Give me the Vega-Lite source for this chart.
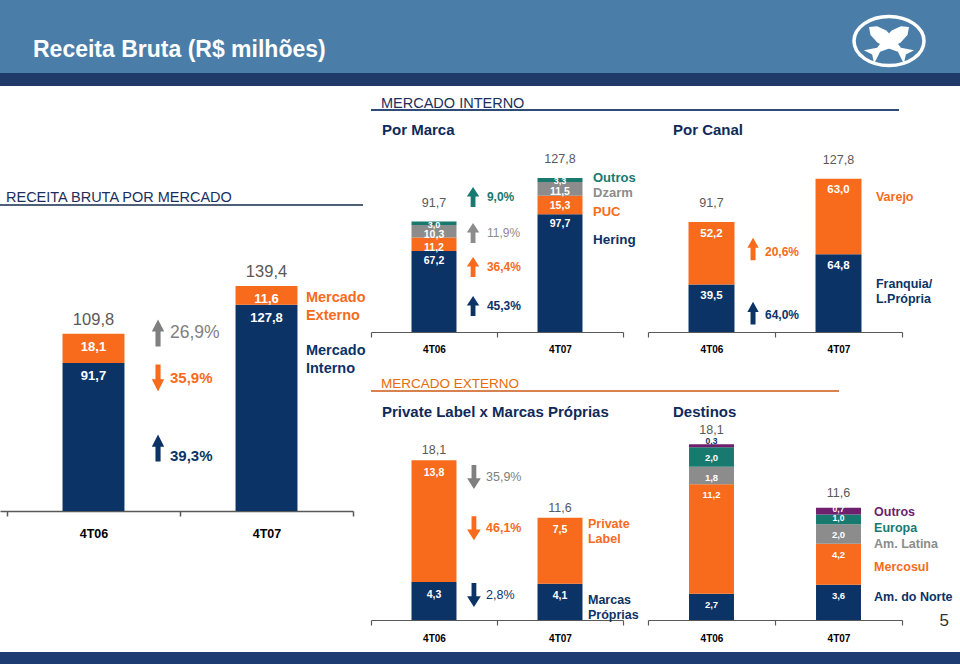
{
"$schema": "https://vega.github.io/schema/vega-lite/v6.json",
"padding": 0,
"background": "white",
"spacing": 0,
"resolve": {"scale": {"color": "independent", "shape": "independent"}},
"config": {
  "font": "Liberation Sans",
  "view": {"stroke": null},
  "locale": {"number": {"decimal": ",", "thousands": ".", "grouping": [3], "currency": ["R$", ""]}},
  "axis": {"grid": false}
},
"datasets": {
  "mercado": [
    {"periodo": "4T06", "serie": "Mercado Interno", "ordem": 1, "valor": 91.7},
    {"periodo": "4T06", "serie": "Mercado Externo", "ordem": 2, "valor": 18.1},
    {"periodo": "4T07", "serie": "Mercado Interno", "ordem": 1, "valor": 127.8},
    {"periodo": "4T07", "serie": "Mercado Externo", "ordem": 2, "valor": 11.6}
  ],
  "mercado_total": [{"periodo": "4T06", "total": 109.8}, {"periodo": "4T07", "total": 139.4}],
  "mercado_var": [
    {"serie": "Total", "variacao": 0.269, "sentido": "alta"},
    {"serie": "Mercado Externo", "variacao": 0.359, "sentido": "queda"},
    {"serie": "Mercado Interno", "variacao": 0.393, "sentido": "alta"}
  ],
  "marca": [
    {"periodo": "4T06", "serie": "Hering", "ordem": 1, "valor": 67.2},
    {"periodo": "4T06", "serie": "PUC", "ordem": 2, "valor": 11.2},
    {"periodo": "4T06", "serie": "Dzarm", "ordem": 3, "valor": 10.3},
    {"periodo": "4T06", "serie": "Outros", "ordem": 4, "valor": 3.0},
    {"periodo": "4T07", "serie": "Hering", "ordem": 1, "valor": 97.7},
    {"periodo": "4T07", "serie": "PUC", "ordem": 2, "valor": 15.3},
    {"periodo": "4T07", "serie": "Dzarm", "ordem": 3, "valor": 11.5},
    {"periodo": "4T07", "serie": "Outros", "ordem": 4, "valor": 3.3}
  ],
  "marca_total": [{"periodo": "4T06", "total": 91.7}, {"periodo": "4T07", "total": 127.8}],
  "marca_var": [
    {"serie": "Outros", "variacao": 0.09, "sentido": "alta"},
    {"serie": "Dzarm", "variacao": 0.119, "sentido": "alta"},
    {"serie": "PUC", "variacao": 0.364, "sentido": "alta"},
    {"serie": "Hering", "variacao": 0.453, "sentido": "alta"}
  ],
  "canal": [
    {"periodo": "4T06", "serie": "Franquia/ L.Própria", "ordem": 1, "valor": 39.5},
    {"periodo": "4T06", "serie": "Varejo", "ordem": 2, "valor": 52.2},
    {"periodo": "4T07", "serie": "Franquia/ L.Própria", "ordem": 1, "valor": 64.8},
    {"periodo": "4T07", "serie": "Varejo", "ordem": 2, "valor": 63.0}
  ],
  "canal_total": [{"periodo": "4T06", "total": 91.7}, {"periodo": "4T07", "total": 127.8}],
  "canal_var": [
    {"serie": "Varejo", "variacao": 0.206, "sentido": "alta"},
    {"serie": "Franquia/ L.Própria", "variacao": 0.64, "sentido": "alta"}
  ],
  "pl": [
    {"periodo": "4T06", "serie": "Marcas Próprias", "ordem": 1, "valor": 4.3},
    {"periodo": "4T06", "serie": "Private Label", "ordem": 2, "valor": 13.8},
    {"periodo": "4T07", "serie": "Marcas Próprias", "ordem": 1, "valor": 4.1},
    {"periodo": "4T07", "serie": "Private Label", "ordem": 2, "valor": 7.5}
  ],
  "pl_total": [{"periodo": "4T06", "total": 18.1}, {"periodo": "4T07", "total": 11.6}],
  "pl_var": [
    {"serie": "Total", "variacao": 0.359, "sentido": "queda"},
    {"serie": "Private Label", "variacao": 0.461, "sentido": "queda"},
    {"serie": "Marcas Próprias", "variacao": 0.028, "sentido": "queda"}
  ],
  "destinos": [
    {"periodo": "4T06", "serie": "Am. do Norte", "ordem": 1, "valor": 2.7},
    {"periodo": "4T06", "serie": "Mercosul", "ordem": 2, "valor": 11.2},
    {"periodo": "4T06", "serie": "Am. Latina", "ordem": 3, "valor": 1.8},
    {"periodo": "4T06", "serie": "Europa", "ordem": 4, "valor": 2.0},
    {"periodo": "4T06", "serie": "Outros", "ordem": 5, "valor": 0.3},
    {"periodo": "4T07", "serie": "Am. do Norte", "ordem": 1, "valor": 3.6},
    {"periodo": "4T07", "serie": "Mercosul", "ordem": 2, "valor": 4.2},
    {"periodo": "4T07", "serie": "Am. Latina", "ordem": 3, "valor": 2.0},
    {"periodo": "4T07", "serie": "Europa", "ordem": 4, "valor": 1.0},
    {"periodo": "4T07", "serie": "Outros", "ordem": 5, "valor": 0.7}
  ],
  "destinos_total": [{"periodo": "4T06", "total": 18.1}, {"periodo": "4T07", "total": 11.6}]
},
"vconcat": [
  {
    "hconcat": [
      {
        "width": 821, "height": 73,
        "data": {"values": [{}]},
        "mark": {"type": "rect", "color": "#4a7ea8"},
        "encoding": {},
        "title": {"text": "Receita Bruta (R$ milhões)", "orient": "top", "anchor": "start", "frame": "group", "offset": -79.5, "dx": 33, "baseline": "alphabetic", "color": "white", "fontSize": 23, "fontWeight": "bold"}
      },
      {
        "width": 139, "height": 73,
        "data": {"values": [{}]},
        "layer": [
          {"mark": {"type": "rect", "color": "#4a7ea8"}, "encoding": {}},
          {"mark": {"type": "point", "shape": "M-36.5,4.5A35,24.5 0 1,1 33.5,4.5A35,24.5 0 1,1 -36.5,4.5Z", "size": 4, "filled": false, "stroke": "white", "strokeWidth": 3.5, "opacity": 1}, "encoding": {}},
          {"mark": {"type": "point", "shape": "M-21.5,-9.5L-20,-1.5L-13.2,6.1L-2.4,11.7L7.4,15.3L13.4,27.3L15.3,18.1L23.6,13.7L10.4,11.3L4.2,2.9L-4.2,-5.9L-13.4,-10.3Z", "size": 4, "filled": true, "color": "white", "opacity": 1}, "encoding": {}},
          {"mark": {"type": "point", "shape": "M18.5,-9.5L17,-1.5L10.2,6.1L-0.6,11.7L-10.4,15.3L-16.4,27.3L-18.3,18.1L-26.6,13.7L-13.4,11.3L-7.2,2.9L1.2,-5.9L10.4,-10.3Z", "size": 4, "filled": true, "color": "white", "opacity": 1}, "encoding": {}}
        ]
      }
    ],
    "spacing": 0,
    "bounds": "flush"
  },
  {
    "width": 960, "height": 13,
    "data": {"values": [{}]},
    "mark": {"type": "rect", "color": "#1f3a68"},
    "encoding": {}
  },
  {
    "hconcat": [
      {
        "vconcat": [
          {"width": 353, "height": 118, "data": {"values": [{}]}, "mark": {"type": "rect", "opacity": 0}, "encoding": {}},
          {
            "width": 363, "height": 2,
            "data": {"values": [{}]},
            "mark": {"type": "rect", "color": "#4f5f78"},
            "encoding": {},
            "title": {"text": "RECEITA BRUTA POR MERCADO", "orient": "top", "anchor": "start", "frame": "group", "offset": -12.7, "dx": 6, "baseline": "alphabetic", "color": "#1b2f5e", "fontSize": 14.5, "fontWeight": "normal"}
          },
          {
            "width": 353, "height": 305,
            "encoding": {"x": {"field": "periodo", "type": "nominal",
              "scale": {"domain": ["4T06", "4T07"], "paddingInner": 0, "paddingOuter": 0.0202, "align": 1},
              "axis": {"title": null, "labelAngle": 0, "tickBand": "extent", "domainColor": "#595959", "domainWidth": 1.5, "tickColor": "#595959", "tickWidth": 1.5, "tickSize": 5, "labelFontSize": 12.5, "labelFontWeight": "bold", "labelColor": "#000000", "labelPadding": 11}}},
            "layer": [
              {
                "data": {"name": "mercado"},
                "transform": [{"stack": "valor", "groupby": ["periodo"], "sort": [{"field": "ordem", "order": "ascending"}], "as": ["v0", "v1"]}],
                "layer": [
                  {"mark": {"type": "bar", "width": {"band": 0.358}},
                   "encoding": {
                     "y": {"field": "v0", "type": "quantitative", "stack": null, "scale": {"domain": [0, 188.97]}, "axis": null},
                     "y2": {"field": "v1"},
                     "color": {"field": "serie", "type": "nominal", "scale": {"domain": ["Mercado Interno", "Mercado Externo", "Total"], "range": ["#0c3366", "#f86b1d", "#808080"]}, "legend": null}}},
                  {"mark": {"type": "text", "baseline": "top", "dy": 7, "color": "white", "fontSize": 13, "fontWeight": "bold"},
                   "encoding": {
                     "y": {"field": "v1", "type": "quantitative", "stack": null, "scale": {"domain": [0, 188.97]}, "axis": null},
                     "text": {"field": "valor", "type": "quantitative", "format": ".1f"}}}
                ]
              },
              {
                "data": {"name": "mercado_total"},
                "mark": {"type": "text", "baseline": "alphabetic", "dy": -9, "fontSize": 16.5, "color": "#595959"},
                "encoding": {
                  "y": {"field": "total", "type": "quantitative", "stack": null, "scale": {"domain": [0, 188.97]}, "axis": null},
                  "text": {"field": "total", "type": "quantitative", "format": ".1f"}}
              },
              {
                "data": {"name": "mercado_var"},
                "transform": [{"filter": {"field": "serie", "equal": "Total"}}],
                "encoding": {"y": {"datum": 110.3, "type": "quantitative", "scale": {"domain": [0, 188.97]}, "axis": null}, "color": {"field": "serie", "type": "nominal", "legend": null}},
                "layer": [
                  {"mark": {"type": "point", "filled": true, "opacity": 1, "size": 729},
                   "encoding": {"x": {"datum": "4T06", "bandPosition": 0.873},
                     "shape": {"field": "sentido", "type": "nominal", "scale": {"domain": ["alta", "queda"], "range": ["M-0.19,1L-0.19,-0.1L-0.46,-0.1L0,-1L0.46,-0.1L0.19,-0.1L0.19,1Z", "M-0.19,-1L-0.19,0.1L-0.46,0.1L0,1L0.46,0.1L0.19,0.1L0.19,-1Z"]}, "legend": null}}},
                  {"mark": {"type": "text", "align": "left", "baseline": "middle", "fontSize": 17.5, "fontWeight": "normal"},
                   "encoding": {"x": {"datum": "4T06", "bandPosition": 0.942}, "text": {"field": "variacao", "type": "quantitative", "format": ".1%"}}}
                ]
              },
              {
                "data": {"name": "mercado_var"},
                "transform": [{"filter": {"field": "serie", "equal": "Mercado Externo"}}],
                "encoding": {"y": {"datum": 82.4, "type": "quantitative", "scale": {"domain": [0, 188.97]}, "axis": null}, "color": {"field": "serie", "type": "nominal", "legend": null}},
                "layer": [
                  {"mark": {"type": "point", "filled": true, "opacity": 1, "size": 729},
                   "encoding": {"x": {"datum": "4T06", "bandPosition": 0.873},
                     "shape": {"field": "sentido", "type": "nominal", "scale": {"domain": ["alta", "queda"], "range": ["M-0.19,1L-0.19,-0.1L-0.46,-0.1L0,-1L0.46,-0.1L0.19,-0.1L0.19,1Z", "M-0.19,-1L-0.19,0.1L-0.46,0.1L0,1L0.46,0.1L0.19,0.1L0.19,-1Z"]}, "legend": null}}},
                  {"mark": {"type": "text", "align": "left", "baseline": "middle", "fontSize": 15, "fontWeight": "bold"},
                   "encoding": {"x": {"datum": "4T06", "bandPosition": 0.942}, "text": {"field": "variacao", "type": "quantitative", "format": ".1%"}}}
                ]
              },
              {
                "data": {"name": "mercado_var"},
                "transform": [{"filter": {"field": "serie", "equal": "Mercado Interno"}}],
                "encoding": {"color": {"field": "serie", "type": "nominal", "legend": null}},
                "layer": [
                  {"mark": {"type": "point", "filled": true, "opacity": 1, "size": 729},
                   "encoding": {"x": {"datum": "4T06", "bandPosition": 0.873},
                     "y": {"datum": 39.0, "type": "quantitative", "scale": {"domain": [0, 188.97]}, "axis": null},
                     "shape": {"field": "sentido", "type": "nominal", "scale": {"domain": ["alta", "queda"], "range": ["M-0.19,1L-0.19,-0.1L-0.46,-0.1L0,-1L0.46,-0.1L0.19,-0.1L0.19,1Z", "M-0.19,-1L-0.19,0.1L-0.46,0.1L0,1L0.46,0.1L0.19,0.1L0.19,-1Z"]}, "legend": null}}},
                  {"mark": {"type": "text", "align": "left", "baseline": "middle", "fontSize": 15, "fontWeight": "bold"},
                   "encoding": {"x": {"datum": "4T06", "bandPosition": 0.942},
                     "y": {"datum": 34.1, "type": "quantitative", "scale": {"domain": [0, 188.97]}, "axis": null},
                     "text": {"field": "variacao", "type": "quantitative", "format": ".1%"}}}
                ]
              },
              {
                "data": {"name": "mercado"},
                "transform": [{"filter": {"and": [{"field": "periodo", "equal": "4T07"}, {"field": "serie", "equal": "Mercado Externo"}]}}],
                "mark": {"type": "text", "align": "left", "baseline": "middle", "fontSize": 14.5, "fontWeight": "bold", "lineBreak": " ", "lineHeight": 18},
                "encoding": {"x": {"datum": "4T07", "bandPosition": 0.728},
                  "y": {"datum": 132.0, "type": "quantitative", "scale": {"domain": [0, 188.97]}, "axis": null},
                  "text": {"field": "serie", "type": "nominal"},
                  "color": {"field": "serie", "type": "nominal", "legend": null}}
              },
              {
                "data": {"name": "mercado"},
                "transform": [{"filter": {"and": [{"field": "periodo", "equal": "4T07"}, {"field": "serie", "equal": "Mercado Interno"}]}}],
                "mark": {"type": "text", "align": "left", "baseline": "middle", "fontSize": 14.5, "fontWeight": "bold", "lineBreak": " ", "lineHeight": 18},
                "encoding": {"x": {"datum": "4T07", "bandPosition": 0.728},
                  "y": {"datum": 99.1, "type": "quantitative", "scale": {"domain": [0, 188.97]}, "axis": null},
                  "text": {"field": "serie", "type": "nominal"},
                  "color": {"field": "serie", "type": "nominal", "legend": null}}
              }
            ]
          }
        ],
        "spacing": 0,
        "bounds": "flush",
        "resolve": {"scale": {"color": "independent", "shape": "independent"}}
      },
      {
        "vconcat": [
          {"width": 528, "height": 23, "data": {"values": [{}]}, "mark": {"type": "rect", "opacity": 0}, "encoding": {}},
          {
            "width": 528, "height": 2,
            "data": {"values": [{}]},
            "mark": {"type": "rect", "color": "#2f4b78"},
            "encoding": {},
            "title": {"text": "MERCADO INTERNO", "orient": "top", "anchor": "start", "frame": "group", "offset": -13.2, "dx": 10, "baseline": "alphabetic", "color": "#1b2f5e", "fontSize": 14.5, "fontWeight": "normal"}
          },
          {
            "hconcat": [
              {
                "width": 252, "height": 221,
                "title": {"text": "Por Marca", "orient": "top", "anchor": "start", "frame": "group", "offset": -38.5, "dx": 11, "baseline": "alphabetic", "color": "#0f2a5a", "fontSize": 15, "fontWeight": "bold"},
                "encoding": {"x": {"field": "periodo", "type": "nominal",
                  "scale": {"domain": ["4T06", "4T07"], "paddingInner": 0, "paddingOuter": 0},
                  "axis": {"title": null, "labelAngle": 0, "tickBand": "extent", "domainColor": "#595959", "domainWidth": 1.2, "tickColor": "#595959", "tickWidth": 1.2, "tickSize": 5, "labelFontSize": 10, "labelFontWeight": "bold", "labelColor": "#000000", "labelPadding": 7}}},
                "layer": [
                  {
                    "data": {"name": "marca"},
                    "transform": [{"stack": "valor", "groupby": ["periodo"], "sort": [{"field": "ordem", "order": "ascending"}], "as": ["v0", "v1"]}],
                    "layer": [
                      {"mark": {"type": "bar", "width": {"band": 0.357}},
                       "encoding": {
                         "y": {"field": "v0", "type": "quantitative", "stack": null, "scale": {"domain": [0, 183.4]}, "axis": null},
                         "y2": {"field": "v1"},
                         "color": {"field": "serie", "type": "nominal", "scale": {"domain": ["Hering", "PUC", "Dzarm", "Outros"], "range": ["#0c3366", "#f86b1d", "#8c8c8c", "#187a6f"]}, "legend": null}}},
                      {"transform": [{"filter": {"field": "valor", "gte": 5}}],
                       "mark": {"type": "text", "baseline": "top", "dy": 5, "color": "white", "fontSize": 10.5, "fontWeight": "bold"},
                       "encoding": {
                         "y": {"field": "v1", "type": "quantitative", "stack": null, "scale": {"domain": [0, 183.4]}, "axis": null},
                         "text": {"field": "valor", "type": "quantitative", "format": ".1f"}}},
                      {"transform": [{"filter": {"field": "valor", "lt": 5}}],
                       "mark": {"type": "text", "baseline": "middle", "dy": 3.5, "color": "white", "fontSize": 9, "fontWeight": "bold"},
                       "encoding": {
                         "y": {"field": "v1", "type": "quantitative", "stack": null, "scale": {"domain": [0, 183.4]}, "axis": null},
                         "text": {"field": "valor", "type": "quantitative", "format": ".1f"}}}
                    ]
                  },
                  {
                    "data": {"name": "marca_total"},
                    "mark": {"type": "text", "baseline": "alphabetic", "dy": -14.7, "fontSize": 12.5, "color": "#595959"},
                    "encoding": {
                      "y": {"field": "total", "type": "quantitative", "stack": null, "scale": {"domain": [0, 183.4]}, "axis": null},
                      "text": {"field": "total", "type": "quantitative", "format": ".1f"}}
                  },
                  {
                    "data": {"name": "marca_var"},
                    "transform": [{"filter": {"field": "serie", "equal": "Outros"}}],
                    "encoding": {"y": {"datum": 112.0, "type": "quantitative", "scale": {"domain": [0, 183.4]}, "axis": null}, "color": {"field": "serie", "type": "nominal", "legend": null}},
                    "layer": [
                      {"mark": {"type": "point", "filled": true, "opacity": 1, "size": 400},
                       "encoding": {"x": {"datum": "4T06", "bandPosition": 0.81},
                         "shape": {"field": "sentido", "type": "nominal", "scale": {"domain": ["alta", "queda"], "range": ["M-0.24,1L-0.24,-0.05L-0.62,-0.05L0,-1L0.62,-0.05L0.24,-0.05L0.24,1Z", "M-0.24,-1L-0.24,0.05L-0.62,0.05L0,1L0.62,0.05L0.24,0.05L0.24,-1Z"]}, "legend": null}}},
                      {"mark": {"type": "text", "align": "left", "baseline": "middle", "fontSize": 12, "fontWeight": "bold"},
                       "encoding": {"x": {"datum": "4T06", "bandPosition": 0.92}, "text": {"field": "variacao", "type": "quantitative", "format": ".1%"}}}
                    ]
                  },
                  {
                    "data": {"name": "marca_var"},
                    "transform": [{"filter": {"field": "serie", "equal": "Dzarm"}}],
                    "encoding": {"y": {"datum": 82.2, "type": "quantitative", "scale": {"domain": [0, 183.4]}, "axis": null}, "color": {"field": "serie", "type": "nominal", "legend": null}},
                    "layer": [
                      {"mark": {"type": "point", "filled": true, "opacity": 1, "size": 400},
                       "encoding": {"x": {"datum": "4T06", "bandPosition": 0.81},
                         "shape": {"field": "sentido", "type": "nominal", "scale": {"domain": ["alta", "queda"], "range": ["M-0.24,1L-0.24,-0.05L-0.62,-0.05L0,-1L0.62,-0.05L0.24,-0.05L0.24,1Z", "M-0.24,-1L-0.24,0.05L-0.62,0.05L0,1L0.62,0.05L0.24,0.05L0.24,-1Z"]}, "legend": null}}},
                      {"mark": {"type": "text", "align": "left", "baseline": "middle", "fontSize": 12, "fontWeight": "normal"},
                       "encoding": {"x": {"datum": "4T06", "bandPosition": 0.92}, "text": {"field": "variacao", "type": "quantitative", "format": ".1%"}}}
                    ]
                  },
                  {
                    "data": {"name": "marca_var"},
                    "transform": [{"filter": {"field": "serie", "equal": "PUC"}}],
                    "encoding": {"y": {"datum": 53.9, "type": "quantitative", "scale": {"domain": [0, 183.4]}, "axis": null}, "color": {"field": "serie", "type": "nominal", "legend": null}},
                    "layer": [
                      {"mark": {"type": "point", "filled": true, "opacity": 1, "size": 400},
                       "encoding": {"x": {"datum": "4T06", "bandPosition": 0.81},
                         "shape": {"field": "sentido", "type": "nominal", "scale": {"domain": ["alta", "queda"], "range": ["M-0.24,1L-0.24,-0.05L-0.62,-0.05L0,-1L0.62,-0.05L0.24,-0.05L0.24,1Z", "M-0.24,-1L-0.24,0.05L-0.62,0.05L0,1L0.62,0.05L0.24,0.05L0.24,-1Z"]}, "legend": null}}},
                      {"mark": {"type": "text", "align": "left", "baseline": "middle", "fontSize": 12, "fontWeight": "bold"},
                       "encoding": {"x": {"datum": "4T06", "bandPosition": 0.92}, "text": {"field": "variacao", "type": "quantitative", "format": ".1%"}}}
                    ]
                  },
                  {
                    "data": {"name": "marca_var"},
                    "transform": [{"filter": {"field": "serie", "equal": "Hering"}}],
                    "encoding": {"y": {"datum": 21.6, "type": "quantitative", "scale": {"domain": [0, 183.4]}, "axis": null}, "color": {"field": "serie", "type": "nominal", "legend": null}},
                    "layer": [
                      {"mark": {"type": "point", "filled": true, "opacity": 1, "size": 400},
                       "encoding": {"x": {"datum": "4T06", "bandPosition": 0.81},
                         "shape": {"field": "sentido", "type": "nominal", "scale": {"domain": ["alta", "queda"], "range": ["M-0.24,1L-0.24,-0.05L-0.62,-0.05L0,-1L0.62,-0.05L0.24,-0.05L0.24,1Z", "M-0.24,-1L-0.24,0.05L-0.62,0.05L0,1L0.62,0.05L0.24,0.05L0.24,-1Z"]}, "legend": null}}},
                      {"mark": {"type": "text", "align": "left", "baseline": "middle", "fontSize": 12, "fontWeight": "bold"},
                       "encoding": {"x": {"datum": "4T06", "bandPosition": 0.92}, "text": {"field": "variacao", "type": "quantitative", "format": ".1%"}}}
                    ]
                  },
                  {
                    "data": {"name": "marca"},
                    "transform": [{"filter": {"and": [{"field": "periodo", "equal": "4T07"}, {"field": "serie", "equal": "Outros"}]}}],
                    "mark": {"type": "text", "align": "left", "baseline": "middle", "fontSize": 13, "fontWeight": "bold"},
                    "encoding": {"x": {"datum": "4T07", "bandPosition": 0.762},
                      "y": {"datum": 127.8, "type": "quantitative", "scale": {"domain": [0, 183.4]}, "axis": null},
                      "text": {"field": "serie", "type": "nominal"},
                      "color": {"field": "serie", "type": "nominal", "legend": null}}
                  },
                  {
                    "data": {"name": "marca"},
                    "transform": [{"filter": {"and": [{"field": "periodo", "equal": "4T07"}, {"field": "serie", "equal": "Dzarm"}]}}],
                    "mark": {"type": "text", "align": "left", "baseline": "middle", "fontSize": 13, "fontWeight": "bold"},
                    "encoding": {"x": {"datum": "4T07", "bandPosition": 0.762},
                      "y": {"datum": 115.4, "type": "quantitative", "scale": {"domain": [0, 183.4]}, "axis": null},
                      "text": {"field": "serie", "type": "nominal"},
                      "color": {"field": "serie", "type": "nominal", "legend": null}}
                  },
                  {
                    "data": {"name": "marca"},
                    "transform": [{"filter": {"and": [{"field": "periodo", "equal": "4T07"}, {"field": "serie", "equal": "PUC"}]}}],
                    "mark": {"type": "text", "align": "left", "baseline": "middle", "fontSize": 13, "fontWeight": "bold"},
                    "encoding": {"x": {"datum": "4T07", "bandPosition": 0.762},
                      "y": {"datum": 99.6, "type": "quantitative", "scale": {"domain": [0, 183.4]}, "axis": null},
                      "text": {"field": "serie", "type": "nominal"},
                      "color": {"field": "serie", "type": "nominal", "legend": null}}
                  },
                  {
                    "data": {"name": "marca"},
                    "transform": [{"filter": {"and": [{"field": "periodo", "equal": "4T07"}, {"field": "serie", "equal": "Hering"}]}}],
                    "mark": {"type": "text", "align": "left", "baseline": "middle", "fontSize": 13.5, "fontWeight": "bold"},
                    "encoding": {"x": {"datum": "4T07", "bandPosition": 0.762},
                      "y": {"datum": 76.3, "type": "quantitative", "scale": {"domain": [0, 183.4]}, "axis": null},
                      "text": {"field": "serie", "type": "nominal"},
                      "color": {"field": "serie", "type": "nominal", "legend": null}}
                  }
                ]
              },
              {
                "width": 254, "height": 221,
                "title": {"text": "Por Canal", "orient": "top", "anchor": "start", "frame": "group", "offset": -38.5, "dx": 25, "baseline": "alphabetic", "color": "#0f2a5a", "fontSize": 15, "fontWeight": "bold"},
                "encoding": {"x": {"field": "periodo", "type": "nominal",
                  "scale": {"domain": ["4T06", "4T07"], "paddingInner": 0, "paddingOuter": 0},
                  "axis": {"title": null, "labelAngle": 0, "tickBand": "extent", "domainColor": "#595959", "domainWidth": 1.2, "tickColor": "#595959", "tickWidth": 1.2, "tickSize": 5, "labelFontSize": 10, "labelFontWeight": "bold", "labelColor": "#000000", "labelPadding": 7}}},
                "layer": [
                  {
                    "data": {"name": "canal"},
                    "transform": [{"stack": "valor", "groupby": ["periodo"], "sort": [{"field": "ordem", "order": "ascending"}], "as": ["v0", "v1"]}],
                    "layer": [
                      {"mark": {"type": "bar", "width": {"band": 0.362}},
                       "encoding": {
                         "y": {"field": "v0", "type": "quantitative", "stack": null, "scale": {"domain": [0, 184.2]}, "axis": null},
                         "y2": {"field": "v1"},
                         "color": {"field": "serie", "type": "nominal", "scale": {"domain": ["Franquia/ L.Própria", "Varejo"], "range": ["#0c3366", "#f86b1d"]}, "legend": null}}},
                      {"mark": {"type": "text", "baseline": "top", "dy": 5.6, "color": "white", "fontSize": 11.5, "fontWeight": "bold"},
                       "encoding": {
                         "y": {"field": "v1", "type": "quantitative", "stack": null, "scale": {"domain": [0, 184.2]}, "axis": null},
                         "text": {"field": "valor", "type": "quantitative", "format": ".1f"}}}
                    ]
                  },
                  {
                    "data": {"name": "canal_total"},
                    "mark": {"type": "text", "baseline": "alphabetic", "dy": -14.7, "fontSize": 12.5, "color": "#595959"},
                    "encoding": {
                      "y": {"field": "total", "type": "quantitative", "stack": null, "scale": {"domain": [0, 184.2]}, "axis": null},
                      "text": {"field": "total", "type": "quantitative", "format": ".1f"}}
                  },
                  {
                    "data": {"name": "canal_var"},
                    "transform": [{"filter": {"field": "serie", "equal": "Varejo"}}],
                    "encoding": {"color": {"field": "serie", "type": "nominal", "legend": null}},
                    "layer": [
                      {"mark": {"type": "point", "filled": true, "opacity": 1, "size": 515},
                       "encoding": {"x": {"datum": "4T06", "bandPosition": 0.827},
                         "y": {"datum": 69.2, "type": "quantitative", "scale": {"domain": [0, 184.2]}, "axis": null},
                         "shape": {"field": "sentido", "type": "nominal", "scale": {"domain": ["alta", "queda"], "range": ["M-0.22,1L-0.22,-0.1L-0.5,-0.1L0,-1L0.5,-0.1L0.22,-0.1L0.22,1Z", "M-0.22,-1L-0.22,0.1L-0.5,0.1L0,1L0.5,0.1L0.22,0.1L0.22,-1Z"]}, "legend": null}}},
                      {"mark": {"type": "text", "align": "left", "baseline": "middle", "fontSize": 12, "fontWeight": "bold"},
                       "encoding": {"x": {"datum": "4T06", "bandPosition": 0.921},
                         "y": {"datum": 66.7, "type": "quantitative", "scale": {"domain": [0, 184.2]}, "axis": null},
                         "text": {"field": "variacao", "type": "quantitative", "format": ".1%"}}}
                    ]
                  },
                  {
                    "data": {"name": "canal_var"},
                    "transform": [{"filter": {"field": "serie", "equal": "Franquia/ L.Própria"}}],
                    "encoding": {"color": {"field": "serie", "type": "nominal", "legend": null}},
                    "layer": [
                      {"mark": {"type": "point", "filled": true, "opacity": 1, "size": 515},
                       "encoding": {"x": {"datum": "4T06", "bandPosition": 0.827},
                         "y": {"datum": 15.8, "type": "quantitative", "scale": {"domain": [0, 184.2]}, "axis": null},
                         "shape": {"field": "sentido", "type": "nominal", "scale": {"domain": ["alta", "queda"], "range": ["M-0.22,1L-0.22,-0.1L-0.5,-0.1L0,-1L0.5,-0.1L0.22,-0.1L0.22,1Z", "M-0.22,-1L-0.22,0.1L-0.5,0.1L0,1L0.5,0.1L0.22,0.1L0.22,-1Z"]}, "legend": null}}},
                      {"mark": {"type": "text", "align": "left", "baseline": "middle", "fontSize": 12, "fontWeight": "bold"},
                       "encoding": {"x": {"datum": "4T06", "bandPosition": 0.921},
                         "y": {"datum": 14.2, "type": "quantitative", "scale": {"domain": [0, 184.2]}, "axis": null},
                         "text": {"field": "variacao", "type": "quantitative", "format": ".1%"}}}
                    ]
                  },
                  {
                    "data": {"name": "canal"},
                    "transform": [{"filter": {"and": [{"field": "periodo", "equal": "4T07"}, {"field": "serie", "equal": "Varejo"}]}}],
                    "mark": {"type": "text", "align": "left", "baseline": "middle", "fontSize": 12.5, "fontWeight": "bold"},
                    "encoding": {"x": {"datum": "4T07", "bandPosition": 0.795},
                      "y": {"datum": 112.5, "type": "quantitative", "scale": {"domain": [0, 184.2]}, "axis": null},
                      "text": {"field": "serie", "type": "nominal"},
                      "color": {"field": "serie", "type": "nominal", "legend": null}}
                  },
                  {
                    "data": {"name": "canal"},
                    "transform": [{"filter": {"and": [{"field": "periodo", "equal": "4T07"}, {"field": "serie", "equal": "Franquia/ L.Própria"}]}}],
                    "mark": {"type": "text", "align": "left", "baseline": "middle", "fontSize": 12.5, "fontWeight": "bold", "lineBreak": " ", "lineHeight": 15},
                    "encoding": {"x": {"datum": "4T07", "bandPosition": 0.795},
                      "y": {"datum": 39.6, "type": "quantitative", "scale": {"domain": [0, 184.2]}, "axis": null},
                      "text": {"field": "serie", "type": "nominal"},
                      "color": {"field": "serie", "type": "nominal", "legend": null}}
                  }
                ]
              }
            ],
            "spacing": 25,
            "bounds": "flush",
            "resolve": {"scale": {"color": "independent", "shape": "independent"}}
          },
          {"width": 528, "height": 279, "data": {"values": [{}]}, "mark": {"type": "rect", "opacity": 0}, "encoding": {}},
          {
            "width": 468, "height": 2,
            "data": {"values": [{}]},
            "mark": {"type": "rect", "color": "#d9824f"},
            "encoding": {},
            "title": {"text": "MERCADO EXTERNO", "orient": "top", "anchor": "start", "frame": "group", "offset": -11.8, "dx": 10, "baseline": "alphabetic", "color": "#e46c0a", "fontSize": 13.5, "fontWeight": "normal"}
          },
          {
            "hconcat": [
              {
                "width": 252, "height": 228,
                "title": {"text": "Private Label x Marcas Próprias", "orient": "top", "anchor": "start", "frame": "group", "offset": -40.4, "dx": 11, "baseline": "alphabetic", "color": "#0f2a5a", "fontSize": 15, "fontWeight": "bold"},
                "encoding": {"x": {"field": "periodo", "type": "nominal",
                  "scale": {"domain": ["4T06", "4T07"], "paddingInner": 0, "paddingOuter": 0},
                  "axis": {"title": null, "labelAngle": 0, "tickBand": "extent", "domainColor": "#595959", "domainWidth": 1.2, "tickColor": "#595959", "tickWidth": 1.2, "tickSize": 5, "labelFontSize": 10, "labelFontWeight": "bold", "labelColor": "#000000", "labelPadding": 8}}},
                "layer": [
                  {
                    "data": {"name": "pl"},
                    "transform": [{"stack": "valor", "groupby": ["periodo"], "sort": [{"field": "ordem", "order": "ascending"}], "as": ["v0", "v1"]}],
                    "layer": [
                      {"mark": {"type": "bar", "width": {"band": 0.357}},
                       "encoding": {
                         "y": {"field": "v0", "type": "quantitative", "stack": null, "scale": {"domain": [0, 25.85]}, "axis": null},
                         "y2": {"field": "v1"},
                         "color": {"field": "serie", "type": "nominal", "scale": {"domain": ["Marcas Próprias", "Private Label", "Total"], "range": ["#0c3366", "#f86b1d", "#808080"]}, "legend": null}}},
                      {"mark": {"type": "text", "baseline": "top", "dy": 7.5, "color": "white", "fontSize": 10.5, "fontWeight": "bold"},
                       "encoding": {
                         "y": {"field": "v1", "type": "quantitative", "stack": null, "scale": {"domain": [0, 25.85]}, "axis": null},
                         "text": {"field": "valor", "type": "quantitative", "format": ".1f"}}}
                    ]
                  },
                  {
                    "data": {"name": "pl_total"},
                    "mark": {"type": "text", "baseline": "alphabetic", "dy": -6, "fontSize": 12.5, "color": "#595959"},
                    "encoding": {
                      "y": {"field": "total", "type": "quantitative", "stack": null, "scale": {"domain": [0, 25.85]}, "axis": null},
                      "text": {"field": "total", "type": "quantitative", "format": ".1f"}}
                  },
                  {
                    "data": {"name": "pl_var"},
                    "transform": [{"filter": {"field": "serie", "equal": "Total"}}],
                    "encoding": {"y": {"datum": 16.2, "type": "quantitative", "scale": {"domain": [0, 25.85]}, "axis": null}, "color": {"field": "serie", "type": "nominal", "legend": null}},
                    "layer": [
                      {"mark": {"type": "point", "filled": true, "opacity": 1, "size": 576},
                       "encoding": {"x": {"datum": "4T06", "bandPosition": 0.817},
                         "shape": {"field": "sentido", "type": "nominal", "scale": {"domain": ["alta", "queda"], "range": ["M-0.2,1L-0.2,-0.1L-0.57,-0.1L0,-1L0.57,-0.1L0.2,-0.1L0.2,1Z", "M-0.2,-1L-0.2,0.1L-0.57,0.1L0,1L0.57,0.1L0.2,0.1L0.2,-1Z"]}, "legend": null}}},
                      {"mark": {"type": "text", "align": "left", "baseline": "middle", "fontSize": 12.5, "fontWeight": "normal"},
                       "encoding": {"x": {"datum": "4T06", "bandPosition": 0.913}, "text": {"field": "variacao", "type": "quantitative", "format": ".1%"}}}
                    ]
                  },
                  {
                    "data": {"name": "pl_var"},
                    "transform": [{"filter": {"field": "serie", "equal": "Private Label"}}],
                    "encoding": {"y": {"datum": 10.4, "type": "quantitative", "scale": {"domain": [0, 25.85]}, "axis": null}, "color": {"field": "serie", "type": "nominal", "legend": null}},
                    "layer": [
                      {"mark": {"type": "point", "filled": true, "opacity": 1, "size": 576},
                       "encoding": {"x": {"datum": "4T06", "bandPosition": 0.817},
                         "shape": {"field": "sentido", "type": "nominal", "scale": {"domain": ["alta", "queda"], "range": ["M-0.2,1L-0.2,-0.1L-0.57,-0.1L0,-1L0.57,-0.1L0.2,-0.1L0.2,1Z", "M-0.2,-1L-0.2,0.1L-0.57,0.1L0,1L0.57,0.1L0.2,0.1L0.2,-1Z"]}, "legend": null}}},
                      {"mark": {"type": "text", "align": "left", "baseline": "middle", "fontSize": 12.5, "fontWeight": "bold"},
                       "encoding": {"x": {"datum": "4T06", "bandPosition": 0.913}, "text": {"field": "variacao", "type": "quantitative", "format": ".1%"}}}
                    ]
                  },
                  {
                    "data": {"name": "pl_var"},
                    "transform": [{"filter": {"field": "serie", "equal": "Marcas Próprias"}}],
                    "encoding": {"y": {"datum": 2.83, "type": "quantitative", "scale": {"domain": [0, 25.85]}, "axis": null}, "color": {"field": "serie", "type": "nominal", "legend": null}},
                    "layer": [
                      {"mark": {"type": "point", "filled": true, "opacity": 1, "size": 576},
                       "encoding": {"x": {"datum": "4T06", "bandPosition": 0.817},
                         "shape": {"field": "sentido", "type": "nominal", "scale": {"domain": ["alta", "queda"], "range": ["M-0.2,1L-0.2,-0.1L-0.57,-0.1L0,-1L0.57,-0.1L0.2,-0.1L0.2,1Z", "M-0.2,-1L-0.2,0.1L-0.57,0.1L0,1L0.57,0.1L0.2,0.1L0.2,-1Z"]}, "legend": null}}},
                      {"mark": {"type": "text", "align": "left", "baseline": "middle", "fontSize": 12.5, "fontWeight": "normal"},
                       "encoding": {"x": {"datum": "4T06", "bandPosition": 0.913}, "text": {"field": "variacao", "type": "quantitative", "format": ".1%"}}}
                    ]
                  },
                  {
                    "data": {"name": "pl"},
                    "transform": [{"filter": {"and": [{"field": "periodo", "equal": "4T07"}, {"field": "serie", "equal": "Private Label"}]}}],
                    "mark": {"type": "text", "align": "left", "baseline": "middle", "fontSize": 12.5, "fontWeight": "bold", "lineBreak": " ", "lineHeight": 15},
                    "encoding": {"x": {"datum": "4T07", "bandPosition": 0.722},
                      "y": {"datum": 10.83, "type": "quantitative", "scale": {"domain": [0, 25.85]}, "axis": null},
                      "text": {"field": "serie", "type": "nominal"},
                      "color": {"field": "serie", "type": "nominal", "legend": null}}
                  },
                  {
                    "data": {"name": "pl"},
                    "transform": [{"filter": {"and": [{"field": "periodo", "equal": "4T07"}, {"field": "serie", "equal": "Marcas Próprias"}]}}],
                    "mark": {"type": "text", "align": "left", "baseline": "middle", "fontSize": 12.5, "fontWeight": "bold", "lineBreak": " ", "lineHeight": 15},
                    "encoding": {"x": {"datum": "4T07", "bandPosition": 0.722},
                      "y": {"datum": 2.32, "type": "quantitative", "scale": {"domain": [0, 25.85]}, "axis": null},
                      "text": {"field": "serie", "type": "nominal"},
                      "color": {"field": "serie", "type": "nominal", "legend": null}}
                  }
                ]
              },
              {
                "width": 254, "height": 228,
                "title": {"text": "Destinos", "orient": "top", "anchor": "start", "frame": "group", "offset": -40.4, "dx": 25, "baseline": "alphabetic", "color": "#0f2a5a", "fontSize": 15, "fontWeight": "bold"},
                "encoding": {"x": {"field": "periodo", "type": "nominal",
                  "scale": {"domain": ["4T06", "4T07"], "paddingInner": 0, "paddingOuter": 0},
                  "axis": {"title": null, "labelAngle": 0, "tickBand": "extent", "domainColor": "#595959", "domainWidth": 1.2, "tickColor": "#595959", "tickWidth": 1.2, "tickSize": 5, "labelFontSize": 10, "labelFontWeight": "bold", "labelColor": "#000000", "labelPadding": 8}}},
                "layer": [
                  {
                    "data": {"name": "destinos"},
                    "transform": [{"stack": "valor", "groupby": ["periodo"], "sort": [{"field": "ordem", "order": "ascending"}], "as": ["v0", "v1"]}],
                    "layer": [
                      {"mark": {"type": "bar", "width": {"band": 0.354}},
                       "encoding": {
                         "y": {"field": "v0", "type": "quantitative", "stack": null, "scale": {"domain": [0, 23.36]}, "axis": null},
                         "y2": {"field": "v1"},
                         "color": {"field": "serie", "type": "nominal", "scale": {"domain": ["Am. do Norte", "Mercosul", "Am. Latina", "Europa", "Outros"], "range": ["#0c3366", "#f86b1d", "#8c8c8c", "#187a6f", "#6e1f6e"]}, "legend": null}}},
                      {"transform": [{"filter": {"field": "valor", "gte": 1.5}}],
                       "mark": {"type": "text", "baseline": "top", "dy": 6, "color": "white", "fontSize": 9.5, "fontWeight": "bold"},
                       "encoding": {
                         "y": {"field": "v1", "type": "quantitative", "stack": null, "scale": {"domain": [0, 23.36]}, "axis": null},
                         "text": {"field": "valor", "type": "quantitative", "format": ".1f"}}},
                      {"transform": [{"filter": {"field": "valor", "lt": 0.5}}],
                       "mark": {"type": "text", "baseline": "middle", "dy": -3.5, "color": "#0c3366", "fontSize": 8.5, "fontWeight": "bold"},
                       "encoding": {
                         "y": {"field": "v1", "type": "quantitative", "stack": null, "scale": {"domain": [0, 23.36]}, "axis": null},
                         "text": {"field": "valor", "type": "quantitative", "format": ".1f"}}},
                      {"transform": [{"filter": {"and": [{"field": "valor", "gte": 0.5}, {"field": "valor", "lt": 0.8}]}}],
                       "mark": {"type": "text", "baseline": "middle", "dy": 1.5, "color": "white", "fontSize": 8.5, "fontWeight": "bold"},
                       "encoding": {
                         "y": {"field": "v1", "type": "quantitative", "stack": null, "scale": {"domain": [0, 23.36]}, "axis": null},
                         "text": {"field": "valor", "type": "quantitative", "format": ".1f"}}},
                      {"transform": [{"filter": {"and": [{"field": "valor", "gte": 0.8}, {"field": "valor", "lt": 1.5}]}}],
                       "mark": {"type": "text", "baseline": "middle", "dy": 3.5, "color": "white", "fontSize": 8.5, "fontWeight": "bold"},
                       "encoding": {
                         "y": {"field": "v1", "type": "quantitative", "stack": null, "scale": {"domain": [0, 23.36]}, "axis": null},
                         "text": {"field": "valor", "type": "quantitative", "format": ".1f"}}}
                    ]
                  },
                  {
                    "data": {"name": "destinos_total"},
                    "mark": {"type": "text", "baseline": "alphabetic", "dy": -9.7, "fontSize": 12.5, "color": "#595959"},
                    "encoding": {
                      "y": {"field": "total", "type": "quantitative", "stack": null, "scale": {"domain": [0, 23.36]}, "axis": null},
                      "text": {"field": "total", "type": "quantitative", "format": ".1f"}}
                  },
                  {
                    "data": {"name": "destinos"},
                    "transform": [{"filter": {"and": [{"field": "periodo", "equal": "4T07"}, {"field": "serie", "equal": "Outros"}]}}],
                    "mark": {"type": "text", "align": "left", "baseline": "middle", "fontSize": 12.5, "fontWeight": "bold"},
                    "encoding": {"x": {"datum": "4T07", "bandPosition": 0.78},
                      "y": {"datum": 11.07, "type": "quantitative", "scale": {"domain": [0, 23.36]}, "axis": null},
                      "text": {"field": "serie", "type": "nominal"},
                      "color": {"field": "serie", "type": "nominal", "legend": null}}
                  },
                  {
                    "data": {"name": "destinos"},
                    "transform": [{"filter": {"and": [{"field": "periodo", "equal": "4T07"}, {"field": "serie", "equal": "Europa"}]}}],
                    "mark": {"type": "text", "align": "left", "baseline": "middle", "fontSize": 12.5, "fontWeight": "bold"},
                    "encoding": {"x": {"datum": "4T07", "bandPosition": 0.78},
                      "y": {"datum": 9.43, "type": "quantitative", "scale": {"domain": [0, 23.36]}, "axis": null},
                      "text": {"field": "serie", "type": "nominal"},
                      "color": {"field": "serie", "type": "nominal", "legend": null}}
                  },
                  {
                    "data": {"name": "destinos"},
                    "transform": [{"filter": {"and": [{"field": "periodo", "equal": "4T07"}, {"field": "serie", "equal": "Am. Latina"}]}}],
                    "mark": {"type": "text", "align": "left", "baseline": "middle", "fontSize": 12.5, "fontWeight": "bold"},
                    "encoding": {"x": {"datum": "4T07", "bandPosition": 0.78},
                      "y": {"datum": 7.79, "type": "quantitative", "scale": {"domain": [0, 23.36]}, "axis": null},
                      "text": {"field": "serie", "type": "nominal"},
                      "color": {"field": "serie", "type": "nominal", "legend": null}}
                  },
                  {
                    "data": {"name": "destinos"},
                    "transform": [{"filter": {"and": [{"field": "periodo", "equal": "4T07"}, {"field": "serie", "equal": "Mercosul"}]}}],
                    "mark": {"type": "text", "align": "left", "baseline": "middle", "fontSize": 12.5, "fontWeight": "bold"},
                    "encoding": {"x": {"datum": "4T07", "bandPosition": 0.78},
                      "y": {"datum": 5.43, "type": "quantitative", "scale": {"domain": [0, 23.36]}, "axis": null},
                      "text": {"field": "serie", "type": "nominal"},
                      "color": {"field": "serie", "type": "nominal", "legend": null}}
                  },
                  {
                    "data": {"name": "destinos"},
                    "transform": [{"filter": {"and": [{"field": "periodo", "equal": "4T07"}, {"field": "serie", "equal": "Am. do Norte"}]}}],
                    "mark": {"type": "text", "align": "left", "baseline": "middle", "fontSize": 12.5, "fontWeight": "bold"},
                    "encoding": {"x": {"datum": "4T07", "bandPosition": 0.78},
                      "y": {"datum": 2.36, "type": "quantitative", "scale": {"domain": [0, 23.36]}, "axis": null},
                      "text": {"field": "serie", "type": "nominal"},
                      "color": {"field": "serie", "type": "nominal", "legend": null}}
                  }
                ]
              }
            ],
            "spacing": 25,
            "bounds": "flush",
            "resolve": {"scale": {"color": "independent", "shape": "independent"}}
          },
          {
            "width": 589, "height": 260,
            "data": {"values": [{}]},
            "mark": {"type": "rect", "opacity": 0},
            "encoding": {},
            "title": {"text": "5", "orient": "bottom", "anchor": "end", "frame": "group", "offset": -26.5, "dx": -11, "baseline": "alphabetic", "color": "#333333", "fontSize": 17, "fontWeight": "normal"}
          }
        ],
        "spacing": 0,
        "bounds": "flush",
        "resolve": {"scale": {"color": "independent", "shape": "independent"}}
      }
    ],
    "spacing": 371,
    "bounds": "flush",
    "resolve": {"scale": {"color": "independent", "shape": "independent"}}
  },
  {
    "width": 960, "height": 12,
    "data": {"values": [{}]},
    "mark": {"type": "rect", "color": "#1d3d72"},
    "encoding": {}
  }
]
}
